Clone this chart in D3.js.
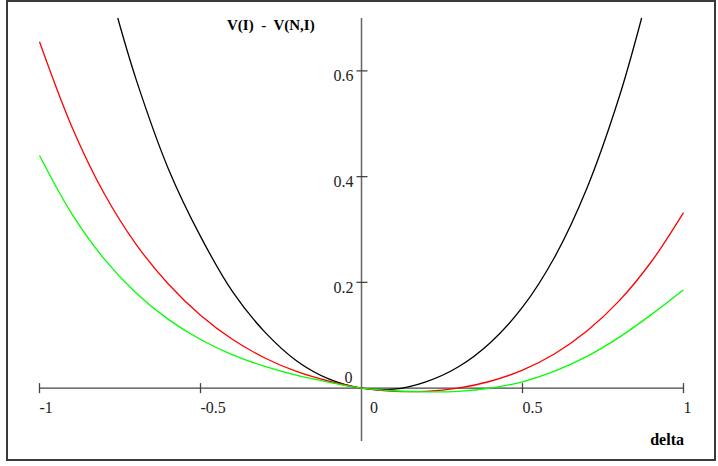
<!DOCTYPE html>
<html>
<head>
<meta charset="utf-8">
<script src="https://cdn.jsdelivr.net/npm/d3@7"></script>
<style>
  body { margin: 0; background: #fff; }
  text { font-family: "Liberation Serif", "Times New Roman", serif; }
</style>
</head>
<body>
<script>
let width = 718, height = 466

// values
let blackDelta = [-0.757, -0.7, -0.6, -0.5, -0.4, -0.3, -0.2, -0.1, 0, 0.1, 0.2, 0.3, 0.4, 0.5, 0.6, 0.7, 0.8, 0.87]
let blackV = [0.70, 0.584, 0.415, 0.287, 0.182, 0.106, 0.051, 0.017, 0, -0.002, 0.012, 0.040, 0.086, 0.153, 0.248, 0.378, 0.550, 0.70]

let delta = [-1, -0.9, -0.8, -0.7, -0.6, -0.5, -0.4, -0.3, -0.2, -0.1, 0, 0.1, 0.2, 0.3, 0.4, 0.5, 0.6, 0.7, 0.8, 0.9, 1]
let redV = [0.655, 0.495, 0.369, 0.272, 0.197, 0.138, 0.092, 0.057, 0.031, 0.013, 0, -0.006, -0.006, 0.000, 0.013, 0.034, 0.065, 0.108, 0.165, 0.239, 0.332]
let greenV = [0.44, 0.330, 0.245, 0.180, 0.130, 0.092, 0.063, 0.041, 0.024, 0.011, 0, -0.005, -0.007, -0.006, 0.000, 0.012, 0.032, 0.060, 0.096, 0.139, 0.186]

let xTicks = [-1, -0.5, 0.5, 1]
let xTickLabels = ['-1', '-0.5', '0.5', '1']
let yTicks = [0.2, 0.4, 0.6]
let yTickLabels = ['0.2', '0.4', '0.6']

let x = d3.scaleLinear().domain([-1, 1]).range([39.5, 683.5])
let y = d3.scaleLinear().domain([-0.1, 0.7]).range([441, 18])

let svg = d3.select('body').append('svg')
    .attr('width', width)
    .attr('height', height)

svg.append('rect')
    .attr('x', 7).attr('y', 1)
    .attr('width', 708).attr('height', 459)
    .attr('fill', 'none')
    .attr('stroke', '#3a3a3a')
    .attr('stroke-width', 2)

// x axis
svg.append('line')
    .attr('x1', x(-1)).attr('x2', x(1))
    .attr('y1', y(0)).attr('y2', y(0))
    .attr('stroke', '#444').attr('stroke-width', 1.3)

svg.append('g').selectAll('line')
    .data(xTicks)
    .enter().append('line')
    .attr('x1', d => x(d)).attr('x2', d => x(d))
    .attr('y1', y(0) - 5).attr('y2', y(0) + 5)
    .attr('stroke', '#444').attr('stroke-width', 1.3)

svg.append('g').selectAll('text')
    .data(xTicks)
    .enter().append('text')
    .attr('x', d => x(d))
    .attr('y', y(0) + 25)
    .attr('font-size', 16)
    .attr('fill', '#222')
    .text((d, i) => xTickLabels[i])

svg.append('text')
    .attr('x', x(0) + 8.5).attr('y', y(0) + 25)
    .attr('font-size', 16).attr('fill', '#222')
    .text('0')

// y axis
svg.append('line')
    .attr('x1', x(0)).attr('x2', x(0))
    .attr('y1', y(0.7)).attr('y2', y(-0.1))
    .attr('stroke', '#666').attr('stroke-width', 1.5)

svg.append('g').selectAll('line')
    .data(yTicks)
    .enter().append('line')
    .attr('x1', x(0) - 5).attr('x2', x(0) + 6)
    .attr('y1', d => y(d)).attr('y2', d => y(d))
    .attr('stroke', '#444').attr('stroke-width', 1.3)

svg.append('g').selectAll('text')
    .data(yTicks)
    .enter().append('text')
    .attr('x', x(0) - 8)
    .attr('y', d => y(d) + 10.5)
    .attr('text-anchor', 'end')
    .attr('font-size', 16)
    .attr('fill', '#222')
    .text((d, i) => yTickLabels[i])

svg.append('text')
    .attr('x', x(0) - 9).attr('y', y(0) - 5.5)
    .attr('text-anchor', 'end')
    .attr('font-size', 16).attr('fill', '#222')
    .text('0')

// axis titles
svg.append('text')
    .attr('x', 227).attr('y', 29.5)
    .attr('font-size', 15).attr('font-weight', 'bold')
    .attr('xml:space', 'preserve')
    .text('V(I)  -  V(N,I)')

svg.append('text')
    .attr('x', 684).attr('y', 445)
    .attr('text-anchor', 'end')
    .attr('font-size', 16).attr('font-weight', 'bold')
    .text('delta')

// curves
let line = d3.line()
    .x(d => x(d[0]))
    .y(d => y(d[1]))
    .curve(d3.curveCatmullRom.alpha(0.5))

let series = [
    {color: '#000000', pts: d3.zip(blackDelta, blackV)},
    {color: '#ff0000', pts: d3.zip(delta, redV)},
    {color: '#00ff00', pts: d3.zip(delta, greenV)}
]

svg.append('g').selectAll('path')
    .data(series)
    .enter().append('path')
    .attr('d', d => line(d.pts))
    .attr('fill', 'none')
    .attr('stroke', d => d.color)
    .attr('stroke-width', 1.3)
</script>
</body>
</html>
